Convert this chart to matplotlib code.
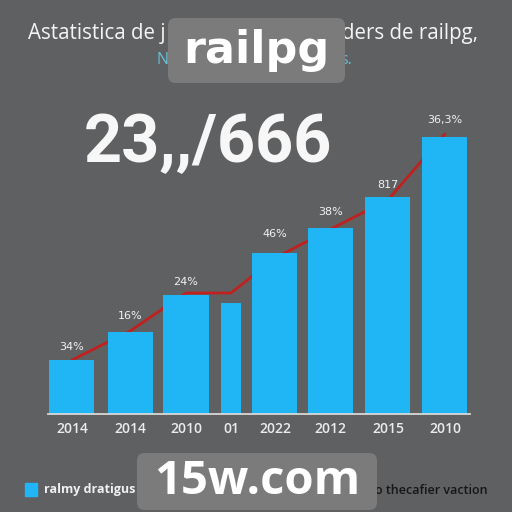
import matplotlib
matplotlib.use("Agg")
import matplotlib.pyplot as plt
from matplotlib.patches import FancyBboxPatch, Rectangle

# ---- data ----
categories = ["2014", "2014", "2010", "01", "2022", "2012", "2015", "2010"]
bar_values = [54, 82, 119, 111, 161, 186, 217, 277]
line_values = [54, 83, 121, 121, 156, 185, 214, 280]
value_labels = ["34%", "16%", "24%", "", "46%", "38%", "817", "36,3%"]
headline = "23,,/666"
title_left = "Astatistica de j"
title_right = "ders de railpg,"
subtitle_left = "N"
subtitle_right = "s."
legend_left = "ralmy dratigus"
legend_right = "o thecafier vaction"

# ---- layout / style ----
BG = "#5f6062"
BLUE = "#20b6f6"
RED = "#c0211f"
W = H = 512

fig = plt.figure(figsize=(5.12, 5.12), dpi=100, facecolor=BG)

def fx(px):
    return px / W

def fy(py):
    return 1 - py / H

xpos = [0.0, 1.02, 2.0, 2.79, 3.56, 4.54, 5.54, 6.54]
widths = [0.79, 0.79, 0.79, 0.35, 0.79, 0.79, 0.79, 0.79]

ax = fig.add_axes([fx(48), fy(414), fx(470 - 48), (414 - 100) / H])
ax.set_facecolor("none")
ax.set_xlim(-0.42, 6.98)
ax.set_ylim(0, 314)

ax.plot(xpos, line_values, color=RED, lw=2.0, zorder=1, solid_capstyle="round")
bars = ax.bar(xpos, bar_values, width=widths, color=BLUE, zorder=2)

offsets = [6, 8, 6, 0, 10, 8, 5, 9]
for b, lab, off in zip(bars, value_labels, offsets):
    if lab:
        ax.annotate(lab, (b.get_x() + b.get_width() / 2, b.get_height()),
                    xytext=(0, off), textcoords="offset points",
                    ha="center", va="bottom", color="#f2f2f2", fontsize=8,
                    family="DejaVu Sans")

for s in ["top", "right", "left"]:
    ax.spines[s].set_visible(False)
ax.spines["bottom"].set_color("#d8d8d8")
ax.spines["bottom"].set_linewidth(1.3)
ax.set_yticks([])
ax.set_xticks(xpos)
ax.set_xticklabels(categories, color="#ececec", fontsize=10,
                   family="Open Sans", weight="semibold")
ax.tick_params(axis="x", length=0, pad=6)

# ---- texts ----
fig.text(fx(28), fy(33), title_left, ha="left", va="center",
         color="#f4f4f4", fontsize=14.8, family="Open Sans")
fig.text(fx(478), fy(33), title_right, ha="right", va="center",
         color="#f4f4f4", fontsize=14.8, family="Open Sans")
fig.text(fx(157), fy(60), subtitle_left, ha="left", va="center",
         color="#63c3d8", fontsize=11.5, family="Open Sans")
fig.text(fx(352), fy(60), subtitle_right, ha="right", va="center",
         color="#63c3d8", fontsize=11.5, family="Open Sans")
fig.text(fx(84), fy(162), headline, ha="left", va="baseline",
         color="#f7f7f7", fontsize=48, family="Roboto", weight="bold")

# legend
fig.patches.append(Rectangle((fx(25), fy(496)), fx(12), 13 / H,
                             transform=fig.transFigure, color=BLUE))
fig.text(fx(44), fy(490), legend_left, ha="left", va="center",
         color="#f0f0f0", fontsize=9, family="Open Sans", weight="bold")
fig.text(fx(488), fy(491), legend_right, ha="right", va="center",
         color="#161616", fontsize=9, family="Open Sans", weight="semibold")

# ---- watermark overlays ----
def wm_box(x0, y0, x1, y1):
    p = FancyBboxPatch((fx(x0), fy(y1)), fx(x1 - x0), (y1 - y0) / H,
                       boxstyle="round,pad=0,rounding_size=0.015",
                       transform=fig.transFigure, facecolor="#7b7b7b",
                       edgecolor="none", zorder=10)
    fig.patches.append(p)

wm_box(168, 18, 345, 83)
fig.text(fx(256), fy(50), "railpg", ha="center", va="center", color="white",
         fontsize=32, family="DejaVu Sans", weight="bold", zorder=11)
wm_box(137, 453, 377, 510)
fig.text(fx(257), fy(482), "15w.com", ha="center", va="center", color="white",
         fontsize=34, family="Open Sans", weight="bold", zorder=11)

fig.savefig("out.png", dpi=100, facecolor=BG)
